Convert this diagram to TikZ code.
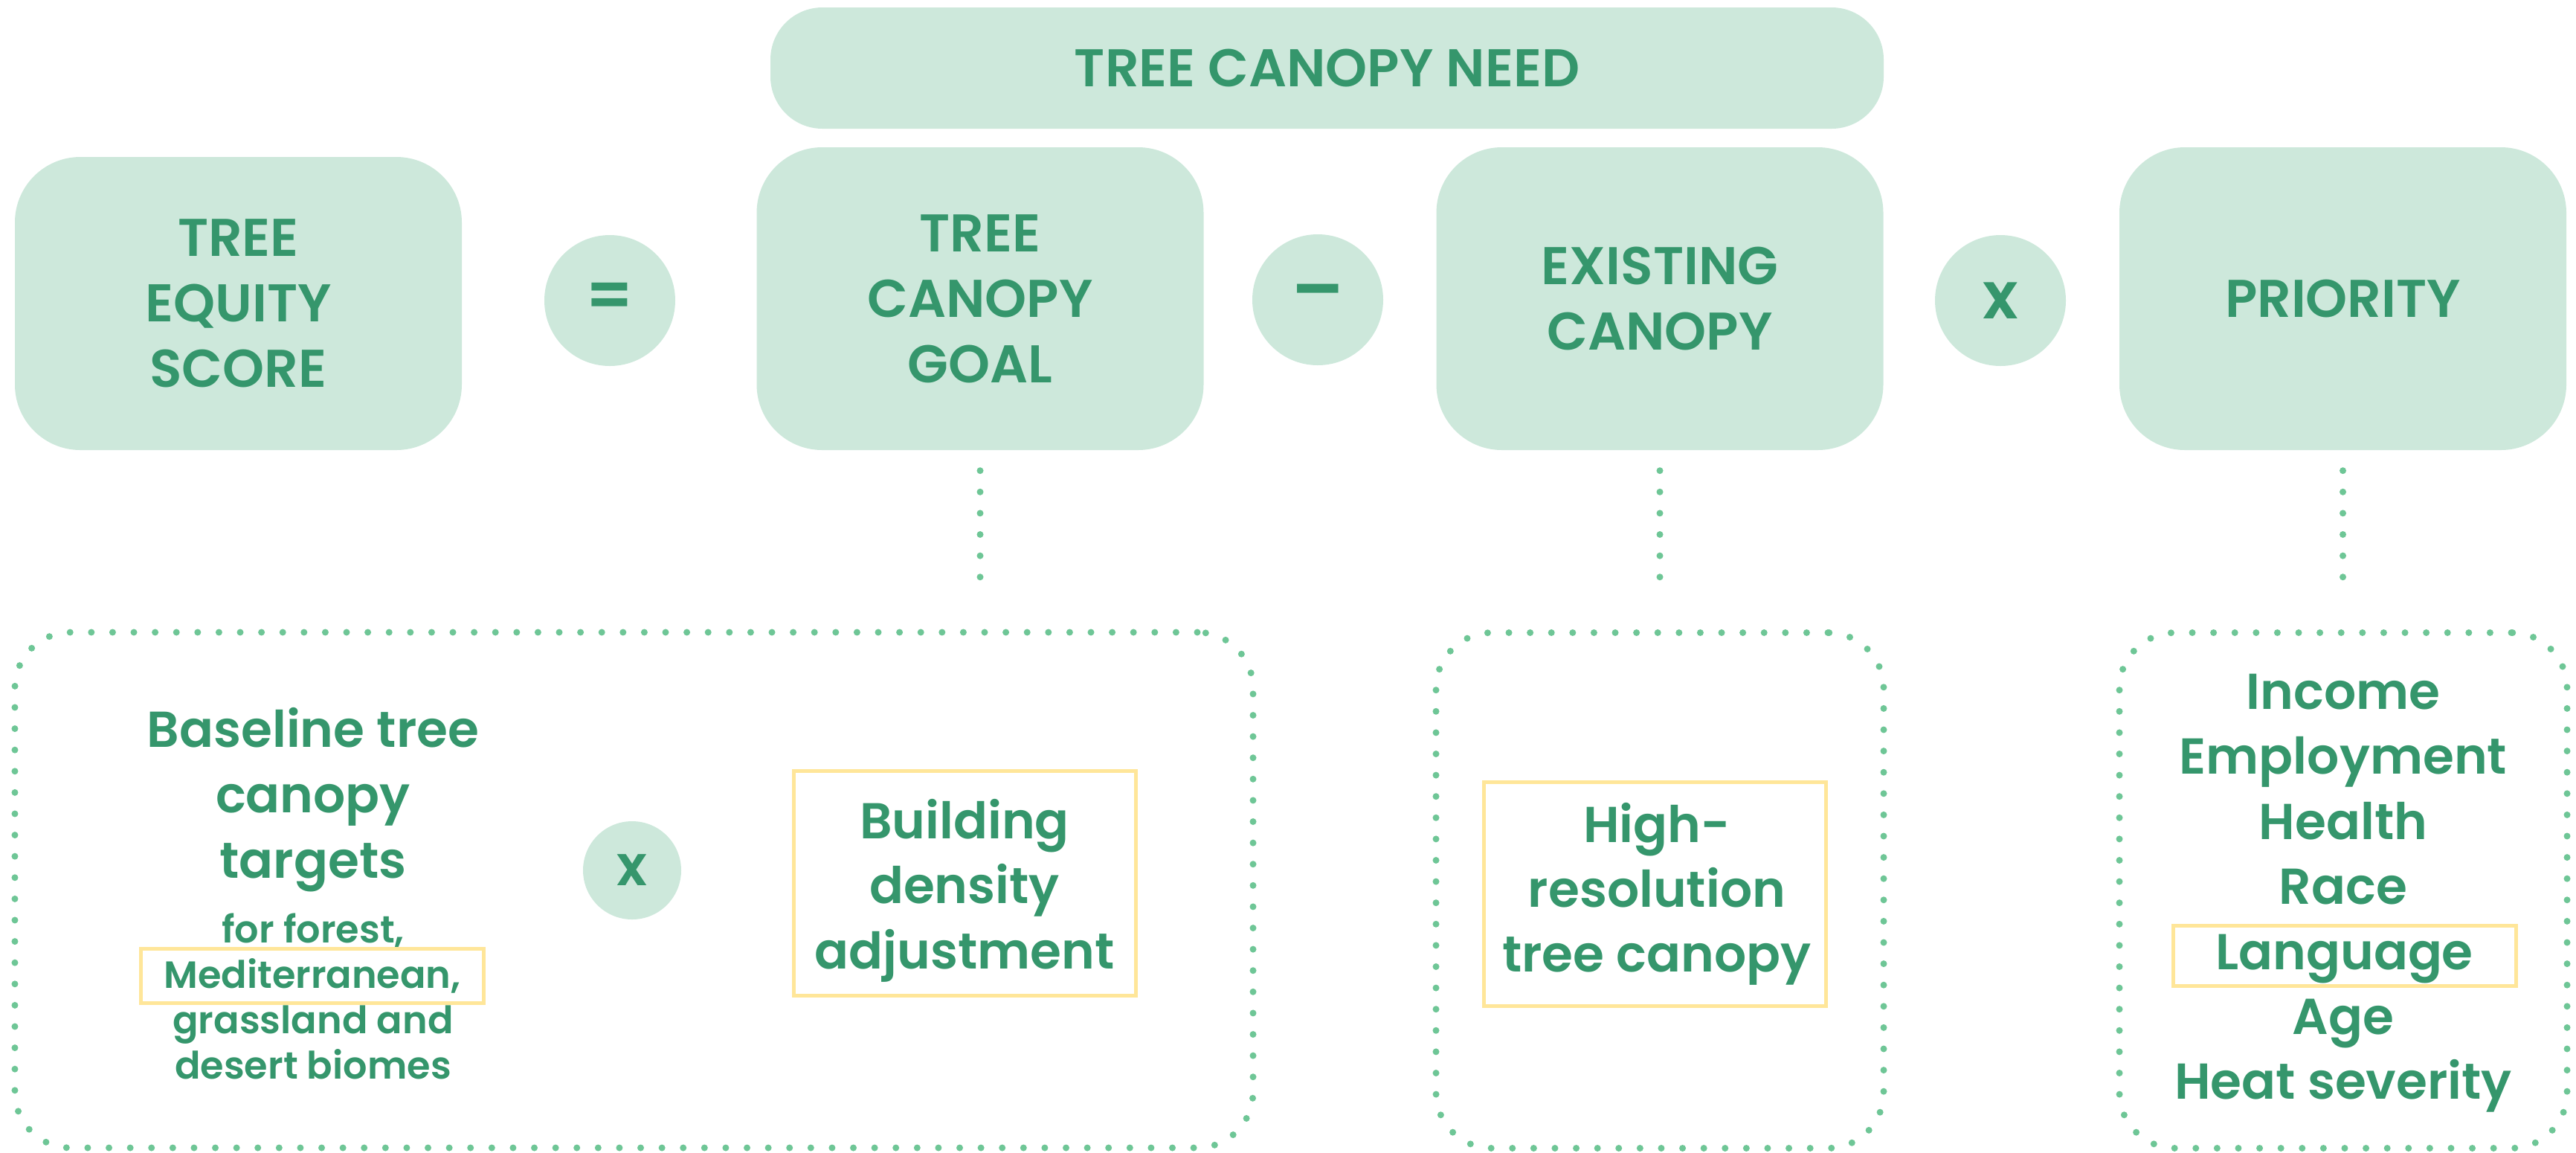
\documentclass[tikz,border=0pt]{standalone}
\usepackage{fontspec}
\usepackage{tikz}
\usetikzlibrary{positioning}

\newfontfamily\poppins{Poppins SemiBold}

\definecolor{leaf}{RGB}{53,150,108}
\definecolor{mint}{RGB}{205,232,219}
\definecolor{dotgreen}{RGB}{110,198,150}
\definecolor{butter}{RGB}{255,230,153}

\begin{document}
\begin{tikzpicture}[
    every node/.style={text=leaf, inner sep=0pt},
    bigfont/.style={font=\poppins\fontsize{20.3}{25}\selectfont},
    listfont/.style={font=\poppins\fontsize{19.3}{25}\selectfont},
    smallfont/.style={font=\poppins\fontsize{14.5}{17.4}\selectfont},
    termbox/.style={rectangle, rounded corners=0.88cm, fill=mint, align=center,
      minimum width=6.01cm, minimum height=4.07cm, bigfont},
    opcircle/.style={circle, fill=mint, minimum size=1.76cm,
      font=\poppins\fontsize{25}{25}\selectfont},
    dotline/.style={draw=dotgreen, line width=0.09cm, line cap=round,
      dash pattern=on 0pt off 0.286cm},
    infobox/.style={dotline, rectangle, rounded corners=0.75cm,
      minimum width=6.02cm, minimum height=6.93cm},
    hilite/.style={draw=butter, line width=0.05cm},
    listline/.style={anchor=base, listfont},
    noteline/.style={anchor=base, smallfont},
  ]
  \useasboundingbox (0,0) rectangle (34.64,-15.49);

  % Formula: score = (goal - existing) x priority
  \node (need)     [termbox, minimum width=14.97cm, minimum height=1.63cm, rounded corners=0.7cm] at (17.845,-0.915) {TREE CANOPY NEED};
  \node (tes)      [termbox, minimum height=3.94cm] at (3.205,-4.08) {TREE\\EQUITY\\SCORE};
  \node (equals)   [opcircle] at (8.20,-4.04) {=};
  \node (goal)     [termbox] at (13.18,-4.015) {TREE\\CANOPY\\GOAL};
  \node (minus)    [opcircle, font=\poppins\fontsize{29}{29}\selectfont] at (17.72,-4.03) {–};
  \node (existing) [termbox] at (22.32,-4.015) {EXISTING\\CANOPY};
  \node (times)    [opcircle] at (26.90,-4.04) {x};
  \node (priority) [termbox] at (31.505,-4.015) {PRIORITY};

  % Dotted boxes below, one per term
  \node (goalinfo)     [infobox, minimum width=16.65cm] at (8.525,-11.965) {};
  \node (canopyinfo)   [infobox] at (22.32,-11.97) {};
  \node (priorityinfo) [infobox] at (31.51,-11.97) {};

  \draw[dotline, shorten <=0.27cm, shorten >=0.46cm] (goal.south) -- (goal.south |- goalinfo.north);
  \draw[dotline, shorten <=0.27cm, shorten >=0.46cm] (existing.south) -- (existing.south |- canopyinfo.north);
  \draw[dotline, shorten <=0.27cm, shorten >=0.46cm] (priority.south) -- (priority.south |- priorityinfo.north);

  % Goal: baseline targets x building density
  \node (target1) [listline] at (4.21,-10.04) {Baseline tree};
  \node (target2) [listline] at (4.21,-10.92) {canopy};
  \node (target3) [listline] at (4.21,-11.80) {targets};
  \node (biome1)  [noteline] at (4.21,-12.67) {for forest,};
  \node (biome2)  [noteline, hilite, minimum width=4.61cm, text height=0.53cm, text depth=0.20cm] at (4.20,-13.28) {Mediterranean,};
  \node (biome3)  [noteline] at (4.21,-13.89) {grassland and};
  \node (biome4)  [noteline] at (4.21,-14.50) {desert biomes};

  \node (timesgoal) [opcircle, minimum size=1.32cm, font=\poppins\fontsize{21.5}{21.5}\selectfont] at (8.50,-11.70) {x};

  \node (densityframe) [hilite, minimum width=4.60cm, minimum height=3.02cm] at (12.975,-11.875) {};
  \node (density1) [listline] at (12.97,-11.27) {Building};
  \node (density2) [listline] at (12.97,-12.14) {density};
  \node (density3) [listline] at (12.97,-13.02) {adjustment};

  % Existing canopy
  \node (canopyframe) [hilite, minimum width=4.60cm, minimum height=3.01cm] at (22.25,-12.015) {};
  \node (canopy1) [listline] at (22.28,-11.32) {High-};
  \node (canopy2) [listline] at (22.28,-12.19) {resolution};
  \node (canopy3) [listline] at (22.28,-13.06) {tree canopy};

  % Priority factors
  \node (factor1) [listline] at (31.51,-9.53) {Income};
  \node (factor2) [listline] at (31.51,-10.40) {Employment};
  \node (factor3) [listline] at (31.51,-11.28) {Health};
  \node (factor4) [listline] at (31.51,-12.15) {Race};
  \node (factor5) [listline, hilite, minimum width=4.61cm, text height=0.59cm, text depth=0.22cm] at (31.525,-13.03) {Language};
  \node (factor6) [listline] at (31.51,-13.90) {Age};
  \node (factor7) [listline] at (31.51,-14.77) {Heat severity};
\end{tikzpicture}
\end{document}
